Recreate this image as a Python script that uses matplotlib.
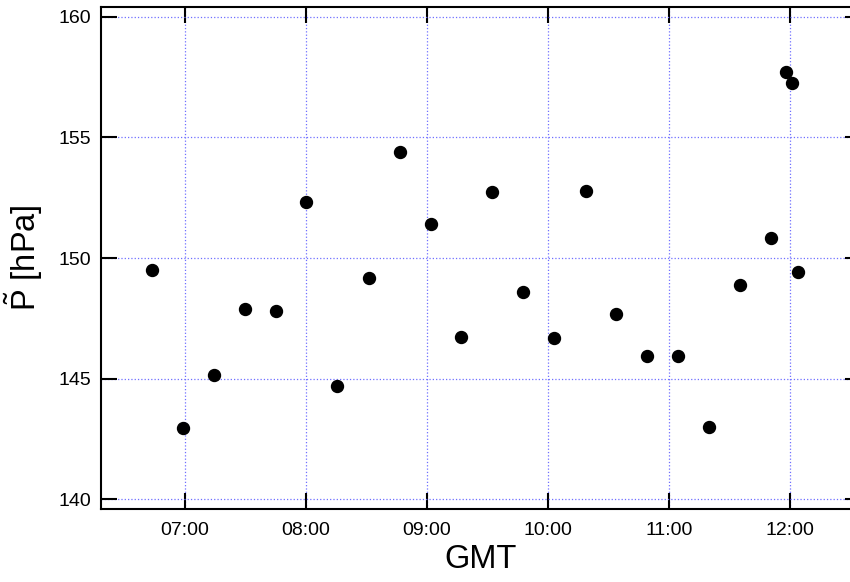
import pandas as pd
import matplotlib
matplotlib.use("Agg")
import matplotlib.pyplot as plt
import matplotlib.dates as mdates

plt.rcParams['font.family'] = ['Liberation Sans', 'DejaVu Sans']
plt.rcParams['mathtext.fontset'] = 'custom'
plt.rcParams['mathtext.rm'] = 'Liberation Sans'

# datos
horas = ["06:43:50", "06:59:00", "07:14:25", "07:29:45", "07:45:05", "08:00:20",
         "08:15:40", "08:31:15", "08:46:35", "09:02:00", "09:17:05", "09:32:30",
         "09:47:50", "10:03:05", "10:18:40", "10:34:00", "10:49:15", "11:04:35",
         "11:19:50", "11:35:20", "11:50:35", "11:58:10", "12:01:10", "12:04:10"]
presion = [149.51, 142.93, 145.14, 147.88, 147.79, 152.32,
           144.68, 149.18, 154.40, 151.40, 146.72, 152.75,
           148.58, 146.68, 152.79, 147.68, 145.92, 145.92,
           142.98, 148.90, 150.85, 157.70, 157.25, 149.42]

t = pd.to_datetime(["2000-01-01 " + h for h in horas])

fig = plt.figure(figsize=(8.5, 5.82), dpi=100)
ax = fig.add_axes([0.1188, 0.1254, 1.013 - 0.1188, 0.988 - 0.1254])

ax.plot(t, presion, 'o', color='black', markersize=8.6, zorder=5)

ax.set_xlim(pd.Timestamp("2000-01-01 06:18:29"), pd.Timestamp("2000-01-01 12:35:13"))
ax.set_ylim(139.59, 160.41)
ax.xaxis.set_major_locator(mdates.HourLocator())
ax.xaxis.set_major_formatter(mdates.DateFormatter('%H:%M'))
ax.set_yticks([140, 145, 150, 155, 160])

ax.grid(True, color='#6f6fff', linestyle=':', linewidth=0.9)
ax.tick_params(direction='in', length=11.5, width=1.5, top=True, right=True,
               labelsize=14, pad=7)
ax.tick_params(axis='x', pad=9)
for s in ax.spines.values():
    s.set_linewidth(1.5)

ax.set_xlabel("GMT", fontsize=23.5, labelpad=4)
ax.set_ylabel(r"$\tilde{\mathrm{P}}$ [hPa]", fontsize=23.5, labelpad=10)

fig.savefig("out.png", dpi=100)
